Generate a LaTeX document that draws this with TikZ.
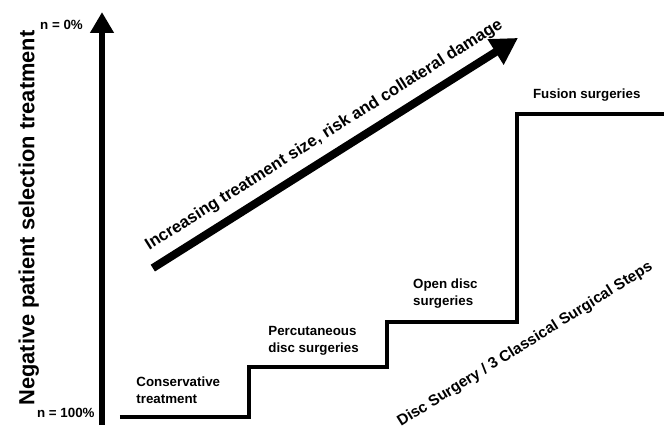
\documentclass[tikz,border=0pt]{standalone}
\usepackage{fontspec}
\setmainfont{Liberation Sans}
\usetikzlibrary{arrows.meta}

\begin{document}
\begin{tikzpicture}
\tikzstyle{step_label}=[font=\bfseries\fontsize{10}{12.5}\selectfont, align=left, anchor=west, inner sep=0pt];
\tikzstyle{end_label}=[font=\bfseries\fontsize{10}{12}\selectfont, anchor=east, inner sep=0pt];
\tikzstyle{slope_label}=[font=\bfseries\fontsize{12.5}{15}\selectfont, inner sep=0pt];
\tikzstyle{axis_arrow}=[line width=3.8pt, -{Triangle[length=0.55cm, width=0.6cm]}];
\tikzstyle{rise_arrow}=[line width=6pt, -{Triangle[length=0.7cm, width=0.75cm]}];
\tikzstyle{stairs}=[line width=3.2pt, line join=miter];

\useasboundingbox (0,0) rectangle (17.51,11.29);

% axis
\coordinate (axis bottom) at (2.69,0.08);
\coordinate (axis top) at (2.69,10.97);
\draw[axis_arrow] (axis bottom) -- (axis top);
\node [end_label] at (2.19,10.63) (n0) {n = 0\%};
\node [end_label] at (2.50,0.40) (n100) {n = 100\%};
\node [font=\bfseries\fontsize{16.4}{18}\selectfont, rotate=90] at (0.76,5.54) (axis label) {Negative patient selection treatment};

% rising arrow
\coordinate (rise start) at (4.03,4.22);
\coordinate (rise tip) at (13.66,10.29);
\draw[rise_arrow] (rise start) -- node[slope_label, sloped, above=7pt, pos=0.5] (rise text) {Increasing treatment size, risk and collateral damage} (rise tip);

% stairs
\draw[stairs] (3.16,0.29) -- (6.57,0.29) -- (6.57,1.61) -- (10.20,1.61) -- (10.20,2.79)
  -- (13.63,2.79) -- (13.63,8.28) -- (17.6,8.28);

\node [step_label] at (3.59,1.00) (conservative) {Conservative\\treatment};
\node [step_label] at (7.07,2.31) (percutaneous) {Percutaneous\\disc surgeries};
\node [step_label] at (10.89,3.55) (open disc) {Open disc\\surgeries};
\node [step_label] at (14.05,8.78) (fusion) {Fusion surgeries};

\node [slope_label, font=\bfseries\fontsize{11.5}{13}\selectfont, rotate=32] at (13.85,2.20) (steps) {Disc Surgery / 3 Classical Surgical Steps};

\end{tikzpicture}
\end{document}
